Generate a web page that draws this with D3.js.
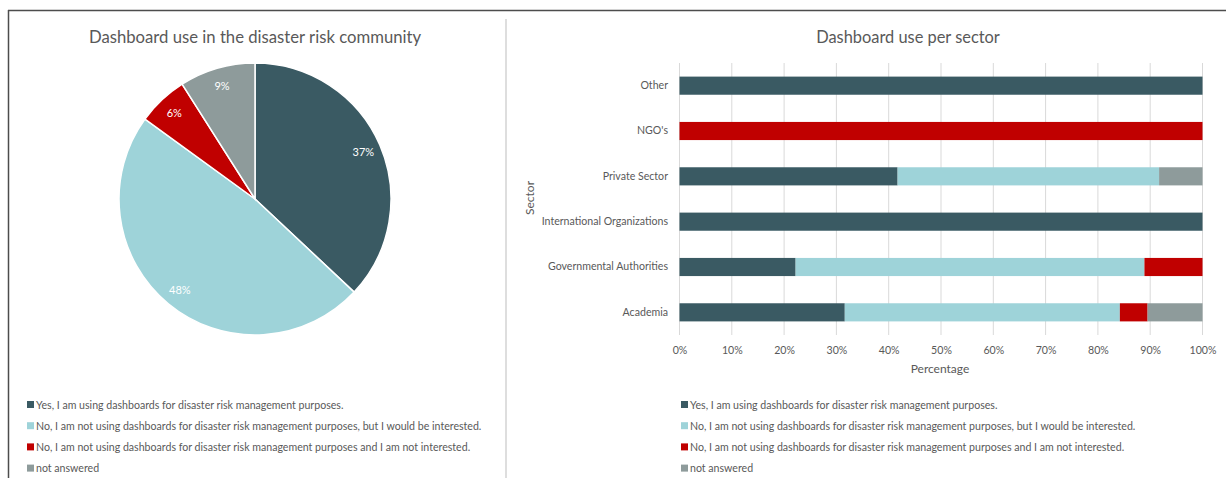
<!DOCTYPE html>
<html>
<head>
<meta charset="utf-8">
<script src="https://cdn.jsdelivr.net/npm/d3@7"></script>
<style>
  html, body { margin: 0; padding: 0; background: #fff; }
  svg { display: block; font-family: Lato, "Open Sans", sans-serif; }
</style>
</head>
<body>
<svg id="chart" width="1226" height="478"></svg>
<script>
// Response options (shared by both charts)
const responses = [
  "Yes, I am using dashboards for disaster risk management purposes.",
  "No, I am not using dashboards for disaster risk management purposes, but I would be interested.",
  "No, I am not using dashboards for disaster risk management purposes and I am not interested.",
  "not answered"
];
const responseColors = ["#3A5A63", "#9ED3D9", "#C00000", "#8E9B9B"];

// Overall share of each response (%)
const overallShares = [37, 48, 6, 9];

// Per-sector shares (%), listed bottom to top as on the axis
const sectors = ["Academia", "Governmental Authorities", "International Organizations", "Private Sector", "NGO's", "Other"];
const yesShare        = [31.6, 22.2, 100, 41.7, 0, 100];
const interestedShare = [52.6, 66.7, 0, 50.0, 0, 0];
const notInterested   = [5.3, 11.1, 0, 0, 100, 0];
const notAnswered     = [10.5, 0, 0, 8.3, 0, 0];

const xTicks = [0, 10, 20, 30, 40, 50, 60, 70, 80, 90, 100];

const svg = d3.select("#chart");
const textColor = "#595959";

// Frame
svg.append("line").attr("x1", 8).attr("x2", 1226).attr("y1", 10.5).attr("y2", 10.5)
  .attr("stroke", "#4d4d4d").attr("stroke-width", 1.5);
svg.append("line").attr("x1", 8.5).attr("x2", 8.5).attr("y1", 10).attr("y2", 478)
  .attr("stroke", "#4d4d4d").attr("stroke-width", 1.5);
svg.append("line").attr("x1", 506).attr("x2", 506).attr("y1", 19).attr("y2", 478)
  .attr("stroke", "#dedede").attr("stroke-width", 2);

// ---------- Pie chart ----------
const pieG = svg.append("g").attr("transform", "translate(255,199)");
svg.append("text").attr("x", 255).attr("y", 43).attr("text-anchor", "middle")
  .attr("fill", textColor).attr("font-size", 16.7)
  .text("Dashboard use in the disaster risk community");

const radius = 136;
const pie = d3.pie().sort(null).value(d => d);
const arcs = pie(overallShares);
const arc = d3.arc().innerRadius(0).outerRadius(radius);
const labelArc = d3.arc().innerRadius(118).outerRadius(118);

pieG.selectAll("path.slice").data(arcs).join("path")
  .attr("class", "slice")
  .attr("d", arc)
  .attr("fill", (d, i) => responseColors[i])
  .attr("stroke", "#fff").attr("stroke-width", 1.5);

pieG.selectAll("text.pct").data(arcs).join("text")
  .attr("class", "pct")
  .attr("transform", d => `translate(${labelArc.centroid(d)})`)
  .attr("text-anchor", "middle").attr("dy", "0.35em")
  .attr("fill", "#fff").attr("font-size", 11)
  .text(d => d.data + "%");

// Legend helper
function legend(x0, y0) {
  const g = svg.append("g");
  responses.forEach((r, i) => {
    const y = y0 + i * 21.2;
    g.append("rect").attr("x", x0).attr("y", y - 4).attr("width", 7).attr("height", 7)
      .attr("fill", responseColors[i]);
    g.append("text").attr("x", x0 + 9).attr("y", y).attr("dy", "0.35em")
      .attr("fill", textColor).attr("font-size", 10.6).text(r);
  });
}
legend(27, 405);

// ---------- Stacked bar chart ----------
svg.append("text").attr("x", 908).attr("y", 43).attr("text-anchor", "middle")
  .attr("fill", textColor).attr("font-size", 16.4)
  .text("Dashboard use per sector");

const plotTop = 63, plotBottom = 335;
const x = d3.scaleLinear().domain([0, 100]).range([679.5, 1202.5]);
const y = d3.scaleBand().domain(sectors).range([plotBottom, plotTop]).paddingInner(0.6).paddingOuter(0.3);

const rows = sectors.map((s, i) => ({
  sector: s,
  v: [yesShare[i], interestedShare[i], notInterested[i], notAnswered[i]]
}));
const keys = [0, 1, 2, 3];
const stacked = d3.stack().keys(keys).value((d, k) => d.v[k])(rows);

// Grid lines
svg.append("g").selectAll("line").data(xTicks).join("line")
  .attr("x1", d => x(d)).attr("x2", d => x(d))
  .attr("y1", plotTop).attr("y2", plotBottom)
  .attr("stroke", "#d9d9d9").attr("stroke-width", 1);

svg.append("g").selectAll("g").data(stacked).join("g")
  .attr("fill", (d, i) => responseColors[i])
  .selectAll("rect").data(d => d.filter(p => p[1] - p[0] > 0)).join("rect")
  .attr("x", p => x(p[0]))
  .attr("width", p => x(p[1]) - x(p[0]))
  .attr("y", p => y(p.data.sector))
  .attr("height", y.bandwidth());

// X axis (tick labels only)
const xAxis = svg.append("g").attr("transform", `translate(0,${plotBottom})`)
  .call(d3.axisBottom(x).tickValues(xTicks).tickFormat(d => d + "%").tickSize(0).tickPadding(11));
xAxis.select(".domain").remove();
xAxis.selectAll("text").attr("fill", textColor).attr("font-size", 10.6).attr("font-family", "Lato, sans-serif");

// Y axis (category labels only)
const yAxis = svg.append("g").attr("transform", "translate(679,0)")
  .call(d3.axisLeft(y).tickSize(0).tickPadding(11));
yAxis.select(".domain").remove();
yAxis.selectAll("text").attr("fill", textColor).attr("font-size", 10.6).attr("font-family", "Lato, sans-serif");

// Axis titles
svg.append("text").attr("x", 940).attr("y", 373).attr("text-anchor", "middle")
  .attr("fill", textColor).attr("font-size", 12).text("Percentage");
svg.append("text").attr("transform", "translate(534,198) rotate(-90)").attr("text-anchor", "middle")
  .attr("fill", textColor).attr("font-size", 12).text("Sector");

legend(681, 405);
</script>
</body>
</html>
